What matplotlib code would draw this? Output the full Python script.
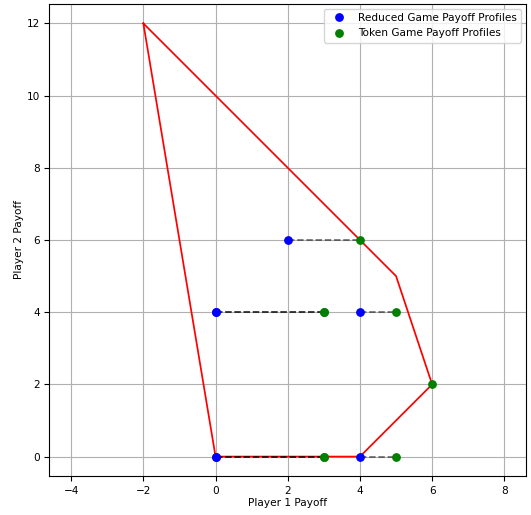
import matplotlib
matplotlib.use("Agg")
import matplotlib.pyplot as plt

# Feasible payoff region (convex hull vertices)
hull_x = [-2, 5, 6, 4, 0, -2]
hull_y = [12, 5, 2, 0, 0, 12]

# Reduced game payoff profiles
reduced_x = [2, 0, 0, 4, 0, 0, 4]
reduced_y = [6, 4, 4, 4, 0, 0, 0]

# Token game payoff profiles (paired with reduced profiles)
token_x = [4, 3, 3, 5, 3, 3, 5]
token_y = [6, 4, 4, 4, 0, 0, 0]

# Extra token profile without a reduced counterpart
extra_token_x = [6]
extra_token_y = [2]

fs = 7.6
fig = plt.figure(figsize=(5.31, 5.15), dpi=100)
ax = fig.add_axes([0.0932, 0.0748, 0.8974, 0.9184])

ax.plot(hull_x, hull_y, 'r-', linewidth=1.25)
for rx, ry, tx, ty in zip(reduced_x, reduced_y, token_x, token_y):
    ax.plot([rx, tx], [ry, ty], 'k--', alpha=0.55, linewidth=1.25)

ax.plot(reduced_x, reduced_y, 'o', color='blue', markersize=5.3, linestyle='none',
        label='Reduced Game Payoff Profiles')
ax.plot(token_x + extra_token_x, token_y + extra_token_y, 'o', color='green',
        markersize=5.3, linestyle='none', label='Token Game Payoff Profiles')

ax.set_aspect('equal', adjustable='datalim')
ax.set_xlim(-4.6, 8.6)
ax.set_ylim(-0.6, 12.6)
ax.set_xticks([-4, -2, 0, 2, 4, 6, 8])
ax.set_yticks([0, 2, 4, 6, 8, 10, 12])
ax.tick_params(labelsize=fs)
ax.grid(True)
ax.set_xlabel('Player 1 Payoff', fontsize=fs, labelpad=1.5)
ax.set_ylabel('Player 2 Payoff', fontsize=fs, labelpad=1.5)
ax.legend(loc='upper right', fontsize=fs)

fig.savefig('out.png', dpi=100)
